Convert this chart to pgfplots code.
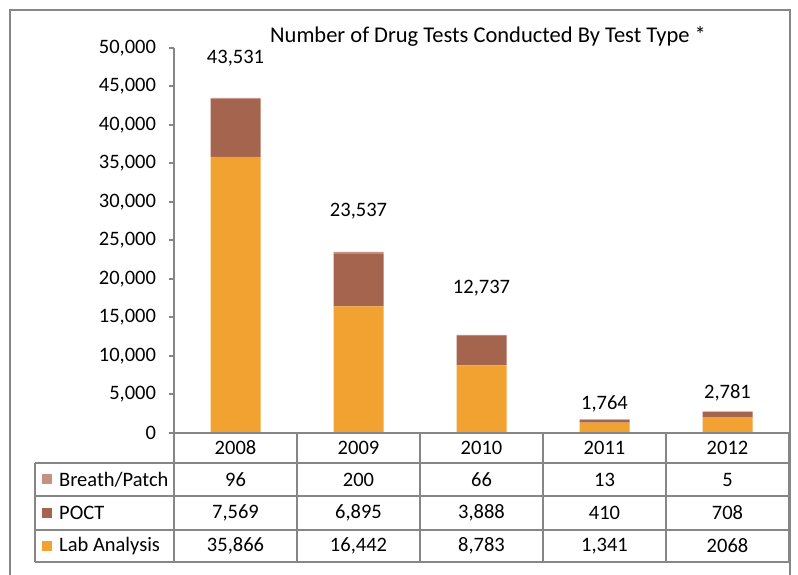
\documentclass[border=0pt]{standalone}
\usepackage{pgfplots}
\pgfplotsset{compat=1.18}
\usepackage{fontspec}
\setmainfont{Carlito}
\definecolor{lab}{RGB}{242,162,48}
\definecolor{poct}{RGB}{165,100,78}
\definecolor{breath}{RGB}{196,146,130}
\definecolor{gridc}{RGB}{134,134,134}
\newcommand\fs{\fontsize{20.5}{24}\selectfont}
\begin{document}
\fs
\begin{tikzpicture}[x=1pt,y=1pt]
  \useasboundingbox (0,0) rectangle (798,575);
  \draw[gridc, line width=2pt] (10,-20) rectangle (790,565);
  \node[font=\fontsize{22.5}{26}\selectfont] at (488,539) {Number of Drug Tests Conducted By Test Type *};
  \begin{axis}[
    at={(174pt,142pt)}, anchor=south west,
    scale only axis, width=615pt, height=385pt,
    ybar stacked, bar width=50pt,
    xmin=-0.5, xmax=4.5, ymin=0, ymax=50000,
    axis x line=none, axis y line*=left,
    xtick=\empty,
    ytick={0,5000,...,50000},
    scaled y ticks=false,
    tick align=outside, major tick length=5pt,
    y axis line style={gridc, line width=2pt, -},
    ytick style={gridc, line width=2pt},
    yticklabel style={/pgf/number format/1000 sep={,}, font=\fs, xshift=-6pt},
    /pgf/number format/assume math mode=true,
  ]
    \addplot[fill=lab, draw=none] coordinates {(0,35866) (1,16442) (2,8783) (3,1341) (4,2068)};
    \addplot[fill=poct, draw=none] coordinates {(0,7569) (1,6895) (2,3888) (3,410) (4,708)};
    \addplot[fill=breath, draw=none] coordinates {(0,96) (1,200) (2,66) (3,13) (4,5)};
  \end{axis}
  \begin{axis}[
    at={(174pt,142pt)}, anchor=south west,
    scale only axis, width=615pt, height=385pt,
    xmin=-0.5, xmax=4.5, ymin=0, ymax=50000,
    hide axis, clip=false,
    /pgf/number format/assume math mode=true,
  ]
    \addplot[draw=none, mark=none, point meta=explicit,
      nodes near coords={\pgfmathprintnumber[1000 sep={,}]{\pgfplotspointmeta}},
      every node near coord/.style={anchor=center, font=\fs}]
      coordinates {(0,48700)[43531] (1,28830)[23537] (2,18830)[12737] (3,3770)[1764] (4,5200)[2781]};
  \end{axis}
  % data table
  \begin{scope}[gridc, line width=2pt]
    \draw (174,142) -- (789,142);
    \draw (35,112) -- (789,112);
    \draw (35,79) -- (789,79);
    \draw (35,45) -- (789,45);
    \draw (35,13) -- (789,13);
    \draw (35,13) -- (35,112);
    \foreach \x in {174,297,420,543,666,789} \draw (\x,13) -- (\x,142);
  \end{scope}
  \foreach \x/\t in {235.5/2008,358.5/2009,481.5/2010,604.5/2011,727.5/2012}
    \node at (\x,127) {\t};
  \fill[breath] (42,90.5) rectangle (52,100.5);
  \fill[poct] (42,57) rectangle (52,67);
  \fill[lab] (42,24) rectangle (52,34);
  \node[anchor=west, inner sep=0pt] at (59,95.5) {Breath/Patch};
  \node[anchor=west, inner sep=0pt] at (59,62) {POCT};
  \node[anchor=west, inner sep=0pt] at (59,29) {Lab Analysis};
  \node at (235.5,95.5) {96};
  \node at (358.5,95.5) {200};
  \node at (481.5,95.5) {66};
  \node at (604.5,95.5) {13};
  \node at (727.5,95.5) {5};
  \node at (235.5,62) {7,569};
  \node at (358.5,62) {6,895};
  \node at (481.5,62) {3,888};
  \node at (604.5,62) {410};
  \node at (727.5,62) {708};
  \node at (235.5,29) {35,866};
  \node at (358.5,29) {16,442};
  \node at (481.5,29) {8,783};
  \node at (604.5,29) {1,341};
  \node at (727.5,29) {2068};
\end{tikzpicture}
\end{document}
